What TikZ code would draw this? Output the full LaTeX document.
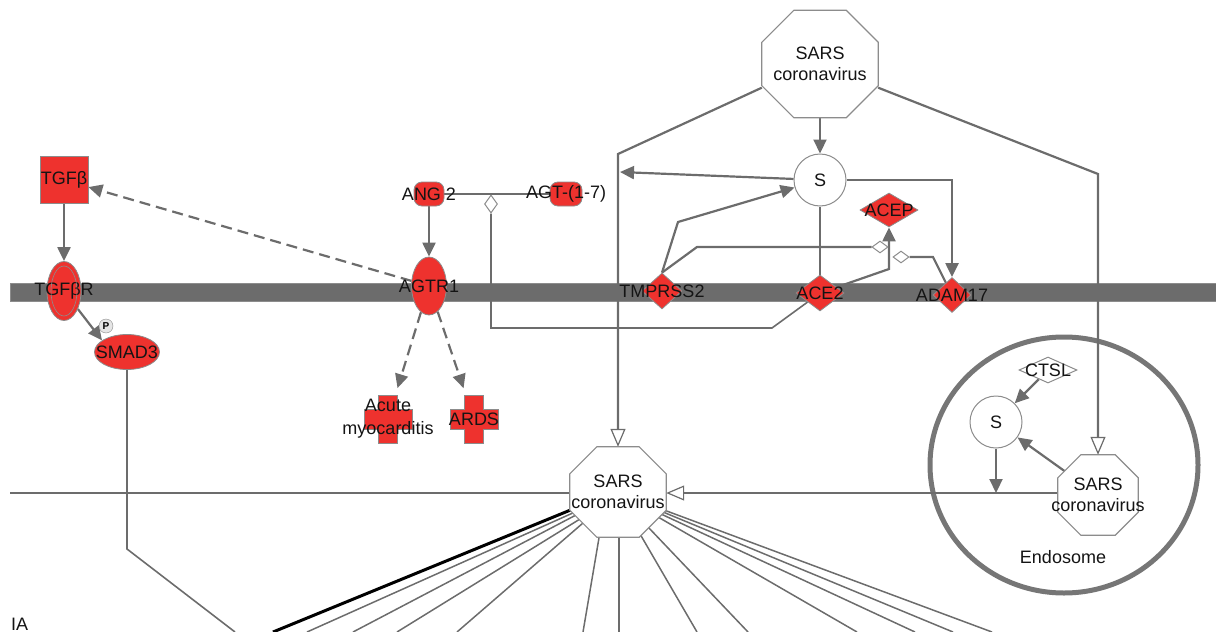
\documentclass[tikz,border=0pt]{standalone}
\usepackage{fontspec}
\setmainfont{Liberation Sans}
\usetikzlibrary{arrows.meta,shapes.geometric,calc}
\pgfdeclarelayer{memb}
\pgfdeclarelayer{edges}
\pgfdeclarelayer{shapes}
\pgfsetlayers{memb,edges,shapes,main}
\definecolor{ipared}{RGB}{238,50,46}
\definecolor{lgray}{RGB}{108,108,108}
\definecolor{bgray}{RGB}{140,140,140}
\definecolor{membc}{RGB}{108,108,108}
\definecolor{egray}{RGB}{118,118,118}
\definecolor{txt}{RGB}{20,20,20}
\newcommand{\octo}[2]{%
 \begin{pgfonlayer}{shapes}
 \filldraw[octline] ($(#1.north west)+(#2,0)$) -- ($(#1.north east)+(-#2,0)$) -- ($(#1.north east)+(0,#2)$) -- ($(#1.south east)+(0,-#2)$) -- ($(#1.south east)+(-#2,0)$) -- ($(#1.south west)+(#2,0)$) -- ($(#1.south west)+(0,-#2)$) -- ($(#1.north west)+(0,#2)$) -- cycle;
 \end{pgfonlayer}}
\newcommand{\plusshape}[1]{%
 \begin{pgfonlayer}{shapes}
 \filldraw[plusst] ($(#1)+(-9.5,-24)$) -- ++(19,0) -- ++(0,14) -- ++(14.5,0) -- ++(0,20) -- ++(-14.5,0) -- ++(0,14) -- ++(-19,0) -- ++(0,-14) -- ++(-14.5,0) -- ++(0,-20) -- ++(14.5,0) -- cycle;
 \end{pgfonlayer}}
\tikzset{
 lbl/.style={font=\fontsize{18}{21}\selectfont, text=txt, align=center, inner sep=0pt},
 rednode/.style={fill=ipared, draw=bgray, line width=0.8pt, inner sep=0pt},
 whitenode/.style={fill=white, draw=bgray, line width=1pt, inner sep=0pt},
 octbox/.style={draw=none, inner sep=0pt},
 octline/.style={fill=white, draw=bgray, line width=1.2pt},
 plusst/.style={fill=ipared, draw=bgray, line width=0.8pt},
 conn/.style={draw=lgray, line width=2.2pt},
 thinl/.style={draw=lgray, line width=1.6pt},
 dconn/.style={draw=lgray, line width=2.2pt, dash pattern=on 11pt off 6pt},
 fan/.style={draw=lgray, line width=1.5pt},
 fanblack/.style={draw=black, line width=3pt},
 arr/.style={-{Triangle[length=14pt,width=13pt]}},
 oarr/.style={-{Triangle[length=18pt,width=15pt,fill=white,line width=1.2pt]}},
}
\begin{document}
\begin{tikzpicture}[x=1pt,y=-1pt]
\useasboundingbox (0,0) rectangle (1216,632);
% membrane
\begin{pgfonlayer}{memb}
\filldraw[fill=membc, draw=bgray, line width=0.6pt] (10,283) rectangle (1218,301);
\end{pgfonlayer}

% nodes
\node[rednode, rectangle, minimum width=48pt, minimum height=47pt, label={[lbl]center:TGFβ}] (tgfb) at (64,180) {};
\node[rednode, ellipse, minimum width=34pt, minimum height=59pt, label={[lbl]center:TGFβR}] (tgfbr) at (64,291) {};
\draw[draw=bgray, line width=0.6pt] (tgfbr.center) ellipse [x radius=13, y radius=25];
\node[rednode, ellipse, minimum width=65pt, minimum height=35pt, label={[lbl]center:SMAD3}] (smad3) at (127,352) {};
\node[circle, draw=bgray, fill=white!80!gray, minimum size=14pt, inner sep=0pt, font=\fontsize{10}{10}\selectfont\bfseries] (pcirc) at (106,326) {P};

\node[rednode, rectangle, rounded corners=8pt, minimum width=30pt, minimum height=24pt, label={[lbl]center:ANG 2}] (ang2) at (429,194) {};
\node[rednode, rectangle, rounded corners=8pt, minimum width=32pt, minimum height=24pt, label={[lbl]center:AGT-(1-7)}] (agt) at (566,194) {};
\node[whitenode, diamond, minimum width=13pt, minimum height=18pt] (dia3) at (491,204) {};
\node[rednode, ellipse, minimum width=35pt, minimum height=58pt, label={[lbl]center:AGTR1}] (agtr1) at (429,286) {};

\node[octbox, minimum width=49pt, minimum height=48pt, label={[lbl, font=\fontsize{18}{23}\selectfont]center:Acute\\myocarditis}] (acute) at (388,419) {};
\plusshape{acute}
\node[octbox, minimum width=48pt, minimum height=48pt, label={[lbl]center:ARDS}] (ards) at (474,419) {};
\plusshape{ards}

\node[octbox, minimum width=116pt, minimum height=107pt, label={[lbl]center:SARS\\coronavirus}] (sars1) at (820,64) {};
\octo{sars1}{32}
\node[whitenode, circle, minimum size=52pt, label={[lbl]center:S}] (s1) at (820,180) {};

\node[rednode, diamond, minimum width=40pt, minimum height=36pt, label={[lbl]center:TMPRSS2}] (tmp) at (662,291) {};
\node[rednode, diamond, minimum width=48pt, minimum height=36pt, label={[lbl]center:ACE2}] (ace2) at (820,293) {};
\node[rednode, diamond, minimum width=38pt, minimum height=35pt, label={[lbl]center:ADAM17}] (adam) at (952,295) {};
\node[rednode, diamond, minimum width=58pt, minimum height=34pt, label={[lbl]center:ACEP}] (acep) at (889,210) {};
\node[whitenode, diamond, minimum width=16pt, minimum height=12pt] (dia1) at (880,247) {};
\node[whitenode, diamond, minimum width=16pt, minimum height=12pt] (dia2) at (901,257) {};

\node[octbox, minimum width=96pt, minimum height=90pt, label={[lbl]center:SARS\\coronavirus}] (sars2) at (618,492) {};
\octo{sars2}{27}

\begin{pgfonlayer}{edges}
\node[draw=egray, line width=5pt, ellipse, minimum width=268pt, minimum height=256pt, inner sep=0pt] (endo) at (1064,465) {};
\end{pgfonlayer}
\node[lbl] (endolbl) at (1063,557) {Endosome};
\node[octbox, minimum width=80pt, minimum height=80pt, label={[lbl]center:SARS\\coronavirus}] (sars3) at (1098,495) {};
\octo{sars3}{23}
\node[whitenode, circle, minimum size=52pt, label={[lbl]center:S}] (s2) at (996,422) {};
\node[whitenode, diamond, minimum width=58pt, minimum height=26pt, label={[lbl]center:CTSL}] (ctsl) at (1048,370) {};

\node[lbl, anchor=base west] (ia) at (11,630) {IA};

% coordinates
\coordinate (j1) at (618,154);
\coordinate (j2) at (1098,174);
\coordinate (sj) at (620,172);
\coordinate (tb) at (678,222);
\coordinate (tc) at (697,247);
\coordinate (ab) at (933,257);
\coordinate (ae) at (889,269);
\coordinate (ac1) at (772,328);
\coordinate (ac2) at (491,328);
\coordinate (hl) at (10,493);
\coordinate (hj) at (996,493);
\coordinate (sm1) at (127,549);
\coordinate (sm2) at (235,632);
\coordinate (fb1) at (273,632);
\coordinate (fb2) at (307,632);
\coordinate (fb3) at (353,632);
\coordinate (fb4) at (397,632);
\coordinate (fb5) at (457,632);
\coordinate (fb6) at (583,632);
\coordinate (fb7) at (619,632);
\coordinate (fb8) at (697,632);
\coordinate (fb9) at (748,632);
\coordinate (fb10) at (857,632);
\coordinate (fb11) at (915,632);
\coordinate (fb12) at (953,632);
\coordinate (fb13) at (992,632);

\begin{pgfonlayer}{edges}
\draw[conn,oarr] ($(sars1.south west)+(0,-30)$) -- (j1) -- (sars2.north);
\draw[conn,oarr] ($(sars1.south east)+(0,-30)$) -- (j2) -- (sars3.north);
\draw[conn,arr] (sars1.south) -- (s1.north);
\draw[conn,arr] (s1) -- (sj);
\draw[conn,arr] (s1.east) -| (adam.north);
\draw[conn,arr] (tmp.north) -- (tb) -- (s1);
\draw[conn] (tmp.north) -- (tc) -- (dia1.west);
\draw[conn] (dia2.east) -- (ab) -- (adam);
\draw[conn,arr] (ace2) -- (ae) -- (acep.south);
\draw[conn] (ace2) -- (s1);
\draw[thinl] (ace2) -- (ac1) -- (ac2) -- (dia3.south);
\draw[thinl] (ang2) -- (agt);
\draw[conn,arr] (ang2) -- (agtr1);
\draw[dconn,arr] (agtr1) -- (tgfb);
\draw[dconn,arr,shorten >=7pt] (agtr1) -- (acute);
\draw[dconn,arr,shorten >=7pt] (agtr1) -- (ards);
\draw[conn,arr] (tgfb) -- (tgfbr);
\draw[conn,arr] (tgfbr) -- (smad3.155);
\draw[thinl] (smad3) -- (sm1) -- (sm2);
\draw[thinl] (hl) -- (sars2.west |- hl);
\draw[thinl,oarr] (sars3.west |- hl) -- (sars2.east |- hl);
\draw[conn,arr] (s2.south) -- (hj);
\draw[conn,arr] (ctsl) -- (s2);
\draw[conn,arr] (sars3.center) -- (s2);
% fan
\draw[fan] ($(sars2)+(-43,20)$) -- (fb2);
\draw[fan] ($(sars2)+(-42,23)$) -- (fb3);
\draw[fan] ($(sars2)+(-38,27)$) -- (fb4);
\draw[fan] ($(sars2)+(-35,31)$) -- (fb5);
\draw[fan] ($(sars2)+(-18,40)$) -- (fb6);
\draw[fan] ($(sars2)+(1,40)$) -- (fb7);
\draw[fan] ($(sars2)+(22,42)$) -- (fb8);
\draw[fan] ($(sars2)+(30,35)$) -- (fb9);
\draw[fan] ($(sars2)+(40,25)$) -- (fb10);
\draw[fan] ($(sars2)+(43,22)$) -- (fb11);
\draw[fan] ($(sars2)+(45,20)$) -- (fb12);
\draw[fan] ($(sars2)+(46,18)$) -- (fb13);
\draw[fanblack] ($(sars2)+(-45,17)$) -- (fb1);
\end{pgfonlayer}
\end{tikzpicture}
\end{document}
